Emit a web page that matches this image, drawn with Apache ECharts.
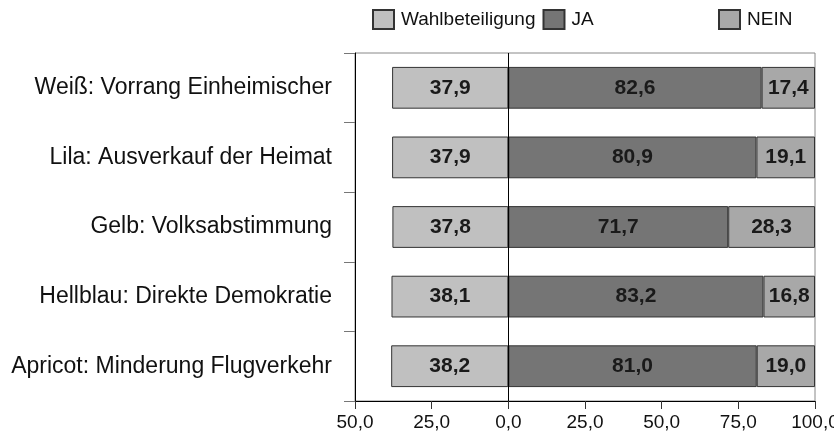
<!DOCTYPE html>
<html>
<head>
<meta charset="utf-8">
<script src="https://cdn.jsdelivr.net/npm/echarts@6/dist/echarts.min.js"></script>
<style>html,body{margin:0;padding:0;background:#fff}#c{width:834px;height:442px}</style>
</head>
<body>
<div id="c"></div>
<script>
const categories = ['Weiß: Vorrang Einheimischer', 'Lila: Ausverkauf der Heimat', 'Gelb: Volksabstimmung', 'Hellblau: Direkte Demokratie', 'Apricot: Minderung Flugverkehr'];
const wahlbeteiligung = [37.9, 37.9, 37.8, 38.1, 38.2];
const ja = [82.6, 80.9, 71.7, 83.2, 81.0];
const nein = [17.4, 19.1, 28.3, 16.8, 19.0];
const xTicks = [-50, -25, 0, 25, 50, 75, 100];

const FONT = '"Liberation Sans", Arial, sans-serif';
const fmt = v => Math.abs(v).toFixed(1).replace('.', ',');

const labelStyle = {
  show: true, position: 'inside', color: '#1a1a1a', fontFamily: FONT,
  fontWeight: 'bold', fontSize: 21,
  formatter: p => fmt(p.value)
};

const chart = echarts.init(document.getElementById('c'), null, {renderer: 'canvas'});
chart.setOption({
  animation: false,
  backgroundColor: '#fff',
  legend: [
    {data: ['Wahlbeteiligung', 'JA'], left: 372, top: 9, padding: 0, itemWidth: 21, itemHeight: 19, itemGap: 7,
     icon: 'rect', textStyle: {fontFamily: FONT, fontSize: 19, color: '#111', padding: [0, 0, 0, 2]}},
    {data: ['NEIN'], left: 718, top: 9, padding: 0, itemWidth: 21, itemHeight: 19,
     icon: 'rect', textStyle: {fontFamily: FONT, fontSize: 19, color: '#111', padding: [0, 0, 0, 2]}}
  ],
  grid: {left: 355, right: 19, top: 53, bottom: 41, show: true, borderColor: '#888', borderWidth: 1,
         containLabel: false, outerBoundsMode: 'none'},
  xAxis: {
    type: 'value', min: xTicks[0], max: xTicks[xTicks.length - 1], interval: 25,
    axisLine: {show: true, onZero: false, lineStyle: {color: '#000', width: 1}},
    axisTick: {show: true, length: 8, lineStyle: {color: '#333'}},
    splitLine: {show: false},
    axisLabel: {fontFamily: FONT, fontSize: 19, color: '#111', margin: 12, formatter: v => fmt(v)}
  },
  yAxis: {
    type: 'category', data: categories, inverse: true,
    axisLine: {show: true, onZero: false, lineStyle: {color: '#000', width: 1}},
    axisTick: {show: true, length: 11, lineStyle: {color: '#777'}},
    axisLabel: {fontFamily: FONT, fontSize: 23, color: '#111', margin: 23}
  },
  series: [
    {name: 'Wahlbeteiligung', type: 'bar', stack: 'total', barWidth: '60%',
     data: wahlbeteiligung.map(v => -v),
     itemStyle: {color: '#c0c0c0', borderColor: '#333', borderWidth: 1},
     label: labelStyle,
     markLine: {silent: true, symbol: 'none', label: {show: false},
       lineStyle: {color: '#000', width: 1, type: 'solid'}, data: [{xAxis: 0}]}},
    {name: 'JA', type: 'bar', stack: 'total', data: ja,
     itemStyle: {color: '#757575', borderColor: '#333', borderWidth: 1},
     label: labelStyle},
    {name: 'NEIN', type: 'bar', stack: 'total', data: nein,
     itemStyle: {color: '#a8a8a8', borderColor: '#333', borderWidth: 1},
     label: labelStyle}
  ]
});
</script>
</body>
</html>
